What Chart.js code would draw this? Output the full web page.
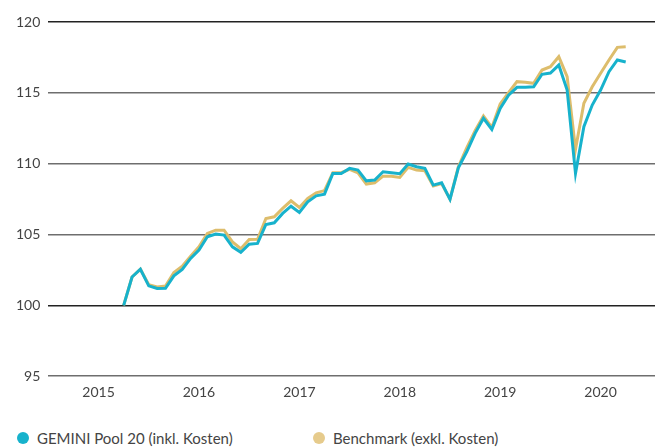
<!DOCTYPE html>
<html>
<head>
<meta charset="utf-8">
<script src="https://cdn.jsdelivr.net/npm/chart.js@4"></script>
<style>
  html, body { margin: 0; padding: 0; background: #fff; }
  #wrap { position: relative; width: 655px; height: 447px; }
  #c { position: absolute; left: 0; top: 0; }
  .legend { position: absolute; top: 428px; left: 0; width: 655px; height: 19px; font-family: Lato, sans-serif; font-size: 15px; color: #444; }
  .item { position: absolute; top: 0; display: flex; align-items: center; height: 19px; white-space: nowrap; }
  .dot { width: 12px; height: 12px; border-radius: 50%; margin-right: 8px; }
</style>
</head>
<body>
<div id="wrap">
  <canvas id="c" width="655" height="410"></canvas>
  <div class="legend">
    <div class="item" id="lg0" style="left:17px;"><span class="dot" style="background:#17B2CC"></span><span id="lt0"></span></div>
    <div class="item" id="lg1" style="left:313px;"><span class="dot" style="background:#E6CB8C"></span><span id="lt1"></span></div>
  </div>
</div>
<script>
// ---- data ----
const seriesNames = ['GEMINI Pool 20 (inkl. Kosten)', 'Benchmark (exkl. Kosten)'];
const yearLabels = ['2015', '2016', '2017', '2018', '2019', '2020'];
const yTicks = [95, 100, 105, 110, 115, 120];
const months = [
  '2015-10','2015-11','2015-12',
  '2016-01','2016-02','2016-03','2016-04','2016-05','2016-06','2016-07','2016-08','2016-09','2016-10','2016-11','2016-12',
  '2017-01','2017-02','2017-03','2017-04','2017-05','2017-06','2017-07','2017-08','2017-09','2017-10','2017-11','2017-12',
  '2018-01','2018-02','2018-03','2018-04','2018-05','2018-06','2018-07','2018-08','2018-09','2018-10','2018-11','2018-12',
  '2019-01','2019-02','2019-03','2019-04','2019-05','2019-06','2019-07','2019-08','2019-09','2019-10','2019-11','2019-12',
  '2020-01','2020-02','2020-03','2020-04','2020-05','2020-06','2020-07','2020-08','2020-09','2020-10'
];
const gemini = [
  100.0, 102.0, 102.55,
  101.38, 101.19, 101.2, 102.08, 102.53, 103.31, 103.9, 104.84, 105.03, 104.96, 104.13, 103.74,
  104.32, 104.37, 105.71, 105.83, 106.49, 107.0, 106.56, 107.31, 107.73, 107.85, 109.31, 109.31,
  109.67, 109.55, 108.79, 108.84, 109.43, 109.36, 109.29, 109.97, 109.78, 109.67, 108.49, 108.65,
  107.48, 109.71, 110.84, 112.14, 113.2, 112.42, 113.9, 114.84, 115.39, 115.39, 115.43, 116.31,
  116.4, 116.96, 115.2, 109.31, 112.61, 114.14, 115.2, 116.49, 117.32, 117.18
];
const benchmark = [
  100.0, 102.0, 102.55,
  101.45, 101.3, 101.36, 102.32, 102.77, 103.47, 104.13, 105.08, 105.31, 105.31, 104.48, 104.0,
  104.65, 104.67, 106.13, 106.25, 106.84, 107.38, 106.91, 107.55, 107.94, 108.1, 109.36, 109.36,
  109.6, 109.36, 108.56, 108.65, 109.12, 109.12, 109.03, 109.74, 109.55, 109.5, 108.42, 108.6,
  107.5, 109.78, 111.12, 112.33, 113.36, 112.56, 114.21, 115.01, 115.79, 115.74, 115.67, 116.61,
  116.85, 117.55, 116.14, 111.01, 114.26, 115.43, 116.38, 117.32, 118.21, 118.26
];

// month offset from Jan 2015
const firstYear = parseInt(yearLabels[0], 10);
function monthIndex(s) { const p = s.split('-'); return (parseInt(p[0],10) - firstYear) * 12 + (parseInt(p[1],10) - 1); }
const xs = months.map(monthIndex);
const toPts = arr => arr.map((v, i) => ({ x: xs[i], y: v }));

document.getElementById('lt0').textContent = seriesNames[0];
document.getElementById('lt1').textContent = seriesNames[1];

const FONT = 'Lato, sans-serif';
new Chart(document.getElementById('c'), {
  type: 'line',
  data: {
    datasets: [
      { label: seriesNames[0], data: toPts(gemini), borderColor: '#17B2CC', borderWidth: 3, pointRadius: 0, tension: 0, fill: false, borderJoinStyle: 'miter' },
      { label: seriesNames[1], data: toPts(benchmark), borderColor: '#DDBD6C', borderWidth: 3, pointRadius: 0, tension: 0, fill: false, borderJoinStyle: 'miter' }
    ]
  },
  options: {
    responsive: false,
    animation: false,
    events: [],
    layout: { padding: { left: 8, right: 0, top: 22, bottom: 1 } },
    plugins: { legend: { display: false }, tooltip: { enabled: false } },
    scales: {
      x: {
        type: 'linear',
        min: 0,
        max: 72.5,
        afterBuildTicks: (axis) => { axis.ticks = yearLabels.map((y, i) => ({ value: i * 12 + 6 })); },
        ticks: {
          autoSkip: false,
          maxRotation: 0,
          padding: 8,
          color: '#444',
          font: { family: FONT, size: 14 },
          callback: (v) => yearLabels[Math.round((v - 6) / 12)]
        },
        grid: { display: false, drawTicks: false },
        border: { display: false }
      },
      y: {
        min: 95,
        max: 120,
        afterBuildTicks: (axis) => { axis.ticks = yTicks.map(v => ({ value: v })); },
        ticks: { padding: 8, color: '#444', font: { family: FONT, size: 14 } },
        grid: {
          drawTicks: false,
          lineWidth: 1.5,
          color: (ctx) => (ctx.tick && (ctx.tick.value === 120 || ctx.tick.value === 100)) ? '#222' : '#6e6e6e'
        },
        border: { display: false }
      }
    }
  }
});
</script>
</body>
</html>
